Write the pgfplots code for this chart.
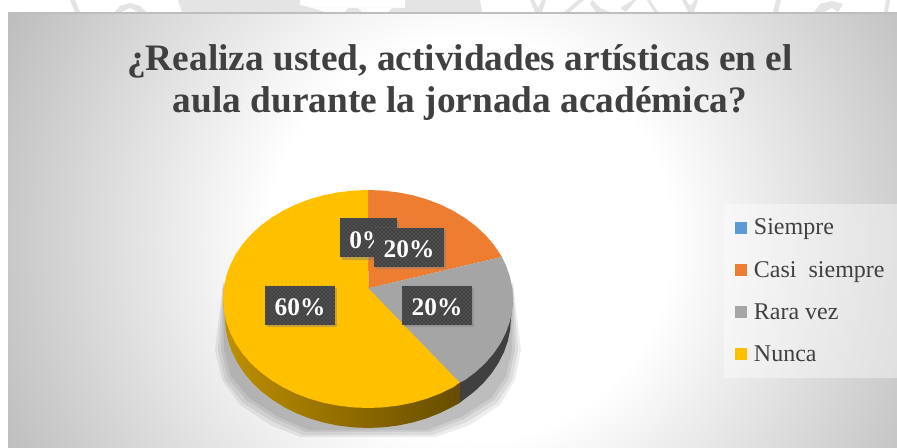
\documentclass[border=0pt]{standalone}
\usepackage{fontspec}
\setmainfont{Liberation Serif}
\newfontface\serifbold{Liberation Serif Bold}
\usepackage{pgfplots}
\usetikzlibrary{shadows,patterns}
\pgfplotsset{compat=1.18}

\definecolor{textgrey}{HTML}{404040}
\definecolor{panelgrey}{HTML}{BEBEBE}
\definecolor{mark}{HTML}{E4E4E4}
\definecolor{cblue}{HTML}{5B9BD5}
\definecolor{corange}{HTML}{ED7D31}
\definecolor{cgrey}{HTML}{A5A5A5}
\definecolor{cyellow}{HTML}{FFC000}
\pgfdeclareradialshading{panelglow}{\pgfpoint{0bp}{0bp}}{%
  color(0bp)=(white); color(10bp)=(white); color(25.5bp)=(panelgrey); color(50bp)=(panelgrey)}

\pgfplotsset{
  datalabel/.style={draw=none, forget plot, nodes near coords, point meta=explicit symbolic,
    every node near coord/.append style={anchor=center, text=white, inner sep=0pt,
        fill=textgrey, minimum height=29.25pt, text height=15.5pt, text depth=0pt,
        drop shadow={shadow xshift=1.8pt, shadow yshift=-1.8pt, opacity=0.45},
        postaction={pattern=crosshatch dots, pattern color=white!35!textgrey},
        font=\fontsize{19}{19}\selectfont\serifbold, minimum width=#1}},
  pieshadow/.style={fill=black, draw=none, fill opacity=0.07, forget plot},
}

\begin{document}
\begin{tikzpicture}
\useasboundingbox (0,0) rectangle (672.75pt,336pt);
\begin{axis}[
    scale only axis,
    width=672.75pt, height=336pt,
    xmin=0, xmax=897, ymin=0, ymax=448,
    y dir=reverse,
    axis lines=none,
    no markers,
    title={¿Realiza usted, actividades artísticas en el\\aula durante la jornada académica?},
    title style={at={(axis description cs:0.5128,0.798)}, anchor=center, align=center,
        font=\fontsize{28}{31.5}\selectfont\serifbold, text=textgrey},
    legend cell align=left,
    legend image code/.code={\fill[#1,fill opacity=1] (0pt,-4.5pt) rectangle (9pt,4.5pt);
        \path (12pt,0pt);},
    legend style={at={(axis cs:724,204)}, anchor=north west, draw=none,
        fill=white, fill opacity=0.4, text opacity=1, text=textgrey,
        font=\fontsize{18}{18}\selectfont, row sep=14.25pt,
        inner xsep=8.25pt, inner ysep=9pt},
]
% panel and the white page strips round it
\addplot[shading=panelglow, draw=none, forget plot] coordinates {(-30,-260)(970,-260)(970,740)(-30,740)};
\addplot[fill=white, draw=none, forget plot] coordinates {(0,0)(8,0)(8,448)(0,448)};
\addplot[fill=white, draw=none, forget plot] coordinates {(0,0)(897,0)(897,12)(0,12)};
\addplot[fill=panelgrey, draw=none, forget plot] coordinates {(8,12)(897,12)(897,14)(8,14)};
% watermark scraps above the panel
\addplot[fill=mark, draw=none, forget plot] coordinates {(70,0)(75,0)(80,12)(75,12)};
\addplot[fill=mark, draw=none, forget plot] coordinates {(115,12)(120,6)(130,3)(140,6)(146,12)(138,12)(130,8)(122,12)};
\addplot[fill=mark, draw=none, forget plot] coordinates {(178,0)(300,0)(300,5)(312,8)(405,8)(405,0)(480,0)(482,12)(182,12)};
\addplot[fill=white, draw=none, forget plot] coordinates {(312,8)(325,12)(345,12)(348,8)};
\addplot[fill=white, draw=none, forget plot] coordinates {(358,8)(362,12)(388,12)(392,8)};
\addplot[fill=mark, draw=none, forget plot] coordinates {(530,0)(534,0)(538,8)(542,0)(546,0)(542,12)(535,12)};
\addplot[fill=mark, draw=none, forget plot] coordinates {(578,0)(584,0)(570,12)(564,12)};
\addplot[fill=mark, draw=none, forget plot] coordinates {(592,0)(600,8)(610,12)(596,12)(590,4)};
\addplot[fill=mark, draw=none, forget plot] coordinates {(620,8)(633,0)(636,0)(626,12)};
\addplot[fill=mark, draw=none, forget plot] coordinates {(647,0)(650,0)(658,12)(654,12)};
\addplot[fill=mark, draw=none, forget plot] coordinates {(682,0)(686,0)(690,6)(695,0)(698,0)(694,12)(688,12)};
\addplot[fill=mark, draw=none, forget plot] coordinates {(776,0)(781,0)(778,12)(773,12)};
\addplot[fill=mark, draw=none, forget plot] coordinates {(814,12)(820,4)(832,1)(843,4)(838,12)(832,8)(824,12)};
\addplot[fill=mark, draw=none, forget plot] coordinates {(886,0)(890,0)(888,12)(884,12)};
% soft shadow under the pie, four layers
\addplot[pieshadow] coordinates {(223,283)(215,350)(222,380)(240,405)(270,425)(300,437)(436,437)(470,425)(500,405)(515,380)(521,350)(513,283)};
\addplot[pieshadow] coordinates {(223,285)(218,350)(225,380)(243,403)(273,422)(303,435)(433,435)(467,422)(497,403)(512,380)(518,350)(513,285)};
\addplot[pieshadow] coordinates {(223,288)(221,350)(228,378)(246,400)(276,419)(306,432)(430,432)(464,419)(494,400)(509,378)(515,350)(513,288)};
\addplot[pieshadow] coordinates {(223,290)(224,350)(231,376)(249,398)(279,417)(309,430)(427,430)(461,417)(491,398)(506,376)(512,350)(513,290)};
% rim
\addplot[fill=textgrey, draw=none, forget plot] coordinates {
  (513,299)(511,318)(510.2,329.5)(507.9,340.9)(504,352)(498.6,362.7)(491.8,373)
  (483.7,382.7)(474.3,391.6)(463.7,399.7)(459.3,403.2)(459.3,382.6)};
\addplot[left color=cyellow!75!black, middle color=cyellow!40!black, right color=cyellow!40!black,
    draw=none, forget plot] coordinates {
  (459.3,382.6)(459.3,403.2)(452.1,407)(439.5,413.3)(426.2,418.5)(412.2,422.6)(397.7,425.6)
  (382.9,427.4)(368,428)(353.1,427.4)(338.3,425.6)(323.8,422.6)(309.8,418.5)(296.5,413.3)
  (283.9,407)(272.3,399.7)(261.7,391.6)(252.3,382.7)(244.2,373)(237.4,362.7)(232,352)
  (228.1,340.9)(225.8,329.5)(225,318)(223,299)};
% slices, 0 %, 20 %, 20 %, 60 %
\addplot[fill=cblue, draw=none] coordinates {(368.3,288.3)};
\addlegendentry{Siempre}
\addplot[fill=corange, draw=none] coordinates {
  (368.3,288.3)(368,190)(383.2,190.6)(398.1,192.4)(412.8,195.3)(427,199.4)(440.5,204.6)
  (453.2,210.8)(465,218)(475.8,226.1)(485.3,234.9)(493.6,244.5)(500.5,254.7)(501.8,257)};
\addlegendentry{Casi\ \ siempre}
\addplot[fill=cgrey, draw=none] coordinates {
  (368.3,288.3)(501.8,257)(505.9,265.3)(509.8,276.3)(512.2,287.6)(513,299)(512.2,310.4)
  (509.8,321.7)(505.9,332.7)(500.5,343.3)(493.6,353.5)(485.3,363.1)(475.8,371.9)(465,380)
  (459.6,382.6)};
\addlegendentry{Rara vez}
\addplot[fill=cyellow, draw=none] coordinates {
  (368.3,288.3)(459.6,382.6)(453.2,387.2)(440.5,393.4)(427,398.6)(412.8,402.7)(398.1,405.6)
  (383.2,407.4)(368,408)(352.8,407.4)(337.9,405.6)(323.2,402.7)(309,398.6)(295.5,393.4)
  (282.8,387.2)(271,380)(260.2,371.9)(250.7,363.1)(242.4,353.5)(235.5,343.3)(230.1,332.7)
  (226.2,321.7)(223.8,310.4)(223,299)(223.8,287.6)(226.2,276.3)(230.1,265.3)(235.5,254.7)
  (242.4,244.5)(250.7,234.9)(260.2,226.1)(271,218)(282.8,210.8)(295.5,204.6)(309,199.4)
  (323.2,195.3)(337.9,192.4)(352.8,190.6)(368,190)};
\addlegendentry{Nunca}
% data labels
\addplot[datalabel=52.5pt] coordinates {(300,305.5)[60\%] (437,305.5)[20\%]};
\addplot[datalabel=42.75pt] coordinates {(368.3,238)[0\%]};
\addplot[datalabel=52.5pt] coordinates {(409,247.5)[20\%]};
\end{axis}
\end{tikzpicture}
\end{document}
